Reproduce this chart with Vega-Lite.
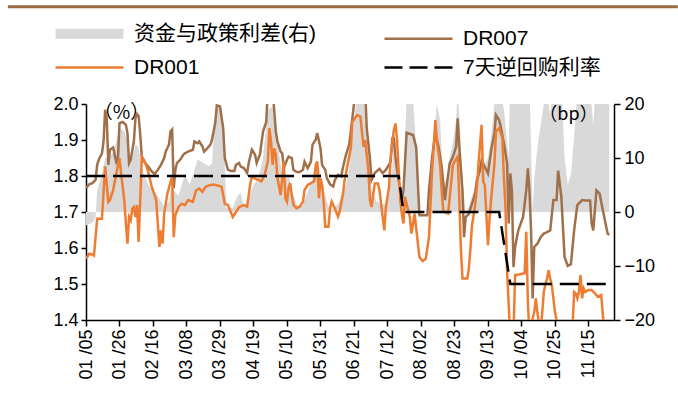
{
  "$schema": "https://vega.github.io/schema/vega-lite/v6.json",
  "width": 528,
  "height": 216,
  "autosize": {"type": "none"},
  "padding": {"left": 86, "top": 104, "right": 64, "bottom": 100},
  "background": "white",
  "config": {
    "view": {"stroke": null},
    "axis": {
      "grid": false,
      "domainColor": "#000000",
      "domainWidth": 1.5,
      "tickColor": "#000000",
      "tickWidth": 1.5,
      "labelColor": "#000000",
      "labelFont": "Liberation Sans Narrow, Liberation Sans, Noto Sans CJK SC",
      "labelFontSize": 18,
      "labelOverlap": false
    }
  },
  "datasets": {
    "spread": [
      {"date": "2024-01-05", "value": -2.5}, {"date": "2024-01-09", "value": -2}, {"date": "2024-01-11", "value": -1},
      {"date": "2024-01-12", "value": 4}, {"date": "2024-01-15", "value": 7}, {"date": "2024-01-17", "value": 10},
      {"date": "2024-01-19", "value": 10}, {"date": "2024-01-22", "value": 11}, {"date": "2024-01-24", "value": 13},
      {"date": "2024-01-26", "value": 15.5}, {"date": "2024-01-29", "value": 15}, {"date": "2024-01-31", "value": 13},
      {"date": "2024-02-02", "value": 9}, {"date": "2024-02-05", "value": 12.5}, {"date": "2024-02-07", "value": 12},
      {"date": "2024-02-09", "value": 8}, {"date": "2024-02-13", "value": 5}, {"date": "2024-02-19", "value": 3},
      {"date": "2024-02-23", "value": 1}, {"date": "2024-02-26", "value": 2}, {"date": "2024-02-27", "value": 4},
      {"date": "2024-02-29", "value": 4}, {"date": "2024-03-03", "value": 3}, {"date": "2024-03-07", "value": 7},
      {"date": "2024-03-10", "value": 5}, {"date": "2024-03-15", "value": 9.7}, {"date": "2024-03-19", "value": 9},
      {"date": "2024-03-22", "value": 8.5}, {"date": "2024-03-24", "value": 9}, {"date": "2024-03-26", "value": 18.7},
      {"date": "2024-03-28", "value": 20}, {"date": "2024-03-30", "value": 19}, {"date": "2024-04-01", "value": 8.7},
      {"date": "2024-04-02", "value": 0.7}, {"date": "2024-04-06", "value": 0.8}, {"date": "2024-04-09", "value": 3},
      {"date": "2024-04-11", "value": 3.5}, {"date": "2024-04-13", "value": 1}, {"date": "2024-04-16", "value": 2.5},
      {"date": "2024-04-19", "value": 5}, {"date": "2024-04-22", "value": 6.3}, {"date": "2024-04-25", "value": 10},
      {"date": "2024-04-28", "value": 19}, {"date": "2024-05-01", "value": 19.5}, {"date": "2024-05-04", "value": 13},
      {"date": "2024-05-07", "value": 7}, {"date": "2024-05-09", "value": 6}, {"date": "2024-05-11", "value": 7},
      {"date": "2024-05-13", "value": 4}, {"date": "2024-05-16", "value": 1.5}, {"date": "2024-05-18", "value": 1},
      {"date": "2024-05-20", "value": 1.5}, {"date": "2024-05-22", "value": 3}, {"date": "2024-05-24", "value": 4.5},
      {"date": "2024-05-26", "value": 6}, {"date": "2024-05-28", "value": 7}, {"date": "2024-05-30", "value": 8.5},
      {"date": "2024-06-01", "value": 6}, {"date": "2024-06-03", "value": 3}, {"date": "2024-06-05", "value": 1},
      {"date": "2024-06-07", "value": 0.5}, {"date": "2024-06-09", "value": 1}, {"date": "2024-06-11", "value": 1.5},
      {"date": "2024-06-13", "value": 3}, {"date": "2024-06-16", "value": 5}, {"date": "2024-06-18", "value": 8},
      {"date": "2024-06-19", "value": 12}, {"date": "2024-06-21", "value": 17}, {"date": "2024-06-23", "value": 22},
      {"date": "2024-06-27", "value": 22}, {"date": "2024-06-29", "value": 14}, {"date": "2024-07-01", "value": 8},
      {"date": "2024-07-02", "value": 4}, {"date": "2024-07-05", "value": 2}, {"date": "2024-07-08", "value": 1.5},
      {"date": "2024-07-11", "value": 1.5}, {"date": "2024-07-13", "value": 3}, {"date": "2024-07-15", "value": 8},
      {"date": "2024-07-16", "value": 13}, {"date": "2024-07-18", "value": 8}, {"date": "2024-07-19", "value": 3},
      {"date": "2024-07-21", "value": 2}, {"date": "2024-07-22", "value": 4}, {"date": "2024-07-24", "value": 22},
      {"date": "2024-07-28", "value": 21}, {"date": "2024-07-30", "value": 12}, {"date": "2024-08-01", "value": 0},
      {"date": "2024-08-06", "value": 0}, {"date": "2024-08-08", "value": 6}, {"date": "2024-08-10", "value": 14},
      {"date": "2024-08-12", "value": 20}, {"date": "2024-08-14", "value": 17}, {"date": "2024-08-16", "value": 5},
      {"date": "2024-08-18", "value": 6}, {"date": "2024-08-20", "value": 10}, {"date": "2024-08-22", "value": 13},
      {"date": "2024-08-24", "value": 17}, {"date": "2024-08-25", "value": 22}, {"date": "2024-08-26", "value": 18},
      {"date": "2024-08-28", "value": 6}, {"date": "2024-08-30", "value": 0}, {"date": "2024-09-01", "value": 1},
      {"date": "2024-09-03", "value": 3}, {"date": "2024-09-05", "value": 5}, {"date": "2024-09-07", "value": 8},
      {"date": "2024-09-09", "value": 10}, {"date": "2024-09-11", "value": 9}, {"date": "2024-09-13", "value": 10},
      {"date": "2024-09-15", "value": 14}, {"date": "2024-09-17", "value": 20}, {"date": "2024-09-19", "value": 22},
      {"date": "2024-09-21", "value": 22}, {"date": "2024-09-23", "value": 19}, {"date": "2024-09-25", "value": 13},
      {"date": "2024-09-26", "value": 10}, {"date": "2024-09-27", "value": 28}, {"date": "2024-09-28", "value": 24},
      {"date": "2024-09-30", "value": 20}, {"date": "2024-10-02", "value": 20}, {"date": "2024-10-05", "value": 22},
      {"date": "2024-10-08", "value": 28}, {"date": "2024-10-09", "value": 24}, {"date": "2024-10-10", "value": 12},
      {"date": "2024-10-11", "value": 0}, {"date": "2024-10-12", "value": 6}, {"date": "2024-10-14", "value": 12},
      {"date": "2024-10-16", "value": 16}, {"date": "2024-10-18", "value": 20}, {"date": "2024-10-20", "value": 22},
      {"date": "2024-10-22", "value": 18}, {"date": "2024-10-24", "value": 23}, {"date": "2024-10-27", "value": 30},
      {"date": "2024-10-29", "value": 24}, {"date": "2024-10-31", "value": 10}, {"date": "2024-11-02", "value": 5},
      {"date": "2024-11-04", "value": 7}, {"date": "2024-11-06", "value": 14}, {"date": "2024-11-08", "value": 22},
      {"date": "2024-11-11", "value": 23}, {"date": "2024-11-13", "value": 23}, {"date": "2024-11-16", "value": 23},
      {"date": "2024-11-18", "value": 16}, {"date": "2024-11-20", "value": 26}, {"date": "2024-11-22", "value": 25},
      {"date": "2024-11-24", "value": 22}, {"date": "2024-11-27", "value": 21}, {"date": "2024-11-28", "value": 20}
    ],
    "dr007": [
      {"date": "2024-01-05", "value": 1.766}, {"date": "2024-01-07", "value": 1.777}, {"date": "2024-01-09", "value": 1.78},
      {"date": "2024-01-11", "value": 1.789}, {"date": "2024-01-12", "value": 1.831}, {"date": "2024-01-13", "value": 1.845},
      {"date": "2024-01-15", "value": 1.863}, {"date": "2024-01-16", "value": 1.896}, {"date": "2024-01-17", "value": 1.984},
      {"date": "2024-01-18", "value": 1.961}, {"date": "2024-01-19", "value": 1.831}, {"date": "2024-01-20", "value": 1.873},
      {"date": "2024-01-22", "value": 1.879}, {"date": "2024-01-24", "value": 1.838}, {"date": "2024-01-25", "value": 1.845},
      {"date": "2024-01-26", "value": 1.947}, {"date": "2024-01-28", "value": 1.95}, {"date": "2024-01-30", "value": 1.942},
      {"date": "2024-01-31", "value": 1.919}, {"date": "2024-02-01", "value": 1.836}, {"date": "2024-02-02", "value": 1.845},
      {"date": "2024-02-04", "value": 1.896}, {"date": "2024-02-05", "value": 1.961}, {"date": "2024-02-06", "value": 1.972},
      {"date": "2024-02-07", "value": 1.966}, {"date": "2024-02-08", "value": 1.915}, {"date": "2024-02-09", "value": 1.854},
      {"date": "2024-02-11", "value": 1.836}, {"date": "2024-02-13", "value": 1.826}, {"date": "2024-02-15", "value": 1.814},
      {"date": "2024-02-17", "value": 1.805}, {"date": "2024-02-19", "value": 1.817}, {"date": "2024-02-21", "value": 1.831},
      {"date": "2024-02-23", "value": 1.85}, {"date": "2024-02-24", "value": 1.868}, {"date": "2024-02-26", "value": 1.887},
      {"date": "2024-02-27", "value": 1.924}, {"date": "2024-02-28", "value": 1.929}, {"date": "2024-02-29", "value": 1.766},
      {"date": "2024-03-01", "value": 1.817}, {"date": "2024-03-02", "value": 1.836}, {"date": "2024-03-04", "value": 1.845},
      {"date": "2024-03-06", "value": 1.859}, {"date": "2024-03-07", "value": 1.863}, {"date": "2024-03-09", "value": 1.868},
      {"date": "2024-03-12", "value": 1.873}, {"date": "2024-03-13", "value": 1.896}, {"date": "2024-03-15", "value": 1.891},
      {"date": "2024-03-16", "value": 1.896}, {"date": "2024-03-18", "value": 1.882}, {"date": "2024-03-19", "value": 1.868},
      {"date": "2024-03-21", "value": 1.877}, {"date": "2024-03-23", "value": 1.887}, {"date": "2024-03-24", "value": 1.901},
      {"date": "2024-03-26", "value": 1.947}, {"date": "2024-03-27", "value": 1.996}, {"date": "2024-03-29", "value": 1.993},
      {"date": "2024-03-31", "value": 1.933}, {"date": "2024-04-01", "value": 1.85}, {"date": "2024-04-03", "value": 1.817},
      {"date": "2024-04-05", "value": 1.814}, {"date": "2024-04-07", "value": 1.814}, {"date": "2024-04-08", "value": 1.831},
      {"date": "2024-04-10", "value": 1.836}, {"date": "2024-04-11", "value": 1.826}, {"date": "2024-04-13", "value": 1.822},
      {"date": "2024-04-15", "value": 1.808}, {"date": "2024-04-16", "value": 1.836}, {"date": "2024-04-18", "value": 1.873},
      {"date": "2024-04-20", "value": 1.859}, {"date": "2024-04-21", "value": 1.836}, {"date": "2024-04-23", "value": 1.859},
      {"date": "2024-04-25", "value": 1.924}, {"date": "2024-04-27", "value": 1.95}, {"date": "2024-04-28", "value": 2.04},
      {"date": "2024-05-01", "value": 2.04}, {"date": "2024-05-03", "value": 1.924}, {"date": "2024-05-04", "value": 1.896},
      {"date": "2024-05-06", "value": 1.868}, {"date": "2024-05-07", "value": 1.863}, {"date": "2024-05-08", "value": 1.822},
      {"date": "2024-05-10", "value": 1.845}, {"date": "2024-05-11", "value": 1.854}, {"date": "2024-05-13", "value": 1.85},
      {"date": "2024-05-14", "value": 1.817}, {"date": "2024-05-16", "value": 1.811}, {"date": "2024-05-18", "value": 1.811},
      {"date": "2024-05-20", "value": 1.817}, {"date": "2024-05-21", "value": 1.84}, {"date": "2024-05-23", "value": 1.822},
      {"date": "2024-05-25", "value": 1.84}, {"date": "2024-05-26", "value": 1.887}, {"date": "2024-05-28", "value": 1.901},
      {"date": "2024-05-29", "value": 1.919}, {"date": "2024-05-31", "value": 1.877}, {"date": "2024-06-01", "value": 1.831},
      {"date": "2024-06-03", "value": 1.817}, {"date": "2024-06-04", "value": 1.794}, {"date": "2024-06-06", "value": 1.777},
      {"date": "2024-06-08", "value": 1.771}, {"date": "2024-06-09", "value": 1.789}, {"date": "2024-06-11", "value": 1.803},
      {"date": "2024-06-13", "value": 1.799}, {"date": "2024-06-14", "value": 1.822}, {"date": "2024-06-16", "value": 1.859},
      {"date": "2024-06-18", "value": 1.887}, {"date": "2024-06-20", "value": 1.961}, {"date": "2024-06-22", "value": 2.04},
      {"date": "2024-06-28", "value": 2.04}, {"date": "2024-06-29", "value": 1.933}, {"date": "2024-07-01", "value": 1.85},
      {"date": "2024-07-02", "value": 1.789}, {"date": "2024-07-04", "value": 1.808}, {"date": "2024-07-07", "value": 1.82},
      {"date": "2024-07-09", "value": 1.808}, {"date": "2024-07-11", "value": 1.817}, {"date": "2024-07-14", "value": 1.84},
      {"date": "2024-07-15", "value": 1.904}, {"date": "2024-07-16", "value": 1.905}, {"date": "2024-07-17", "value": 1.853},
      {"date": "2024-07-18", "value": 1.816}, {"date": "2024-07-20", "value": 1.76}, {"date": "2024-07-21", "value": 1.733},
      {"date": "2024-07-22", "value": 1.76}, {"date": "2024-07-24", "value": 1.92}, {"date": "2024-07-28", "value": 1.914},
      {"date": "2024-07-30", "value": 1.88}, {"date": "2024-08-01", "value": 1.691}, {"date": "2024-08-06", "value": 1.691},
      {"date": "2024-08-07", "value": 1.76}, {"date": "2024-08-09", "value": 1.853}, {"date": "2024-08-11", "value": 1.918},
      {"date": "2024-08-13", "value": 1.881}, {"date": "2024-08-15", "value": 1.825}, {"date": "2024-08-17", "value": 1.733},
      {"date": "2024-08-18", "value": 1.77}, {"date": "2024-08-20", "value": 1.835}, {"date": "2024-08-22", "value": 1.853},
      {"date": "2024-08-24", "value": 1.881}, {"date": "2024-08-25", "value": 1.96}, {"date": "2024-08-26", "value": 1.881},
      {"date": "2024-08-28", "value": 1.76}, {"date": "2024-08-29", "value": 1.63}, {"date": "2024-08-30", "value": 1.686},
      {"date": "2024-09-01", "value": 1.695}, {"date": "2024-09-03", "value": 1.723}, {"date": "2024-09-05", "value": 1.751},
      {"date": "2024-09-06", "value": 1.788}, {"date": "2024-09-08", "value": 1.816}, {"date": "2024-09-09", "value": 1.844},
      {"date": "2024-09-11", "value": 1.825}, {"date": "2024-09-13", "value": 1.807}, {"date": "2024-09-15", "value": 1.872},
      {"date": "2024-09-17", "value": 1.918}, {"date": "2024-09-18", "value": 1.969}, {"date": "2024-09-20", "value": 1.955},
      {"date": "2024-09-21", "value": 1.937}, {"date": "2024-09-23", "value": 1.89}, {"date": "2024-09-25", "value": 1.835},
      {"date": "2024-09-26", "value": 1.668}, {"date": "2024-09-27", "value": 1.807}, {"date": "2024-09-28", "value": 1.76},
      {"date": "2024-09-29", "value": 1.547}, {"date": "2024-09-30", "value": 1.603}, {"date": "2024-10-02", "value": 1.649},
      {"date": "2024-10-05", "value": 1.686}, {"date": "2024-10-07", "value": 1.76}, {"date": "2024-10-08", "value": 1.821},
      {"date": "2024-10-09", "value": 1.76}, {"date": "2024-10-10", "value": 1.649}, {"date": "2024-10-11", "value": 1.46},
      {"date": "2024-10-12", "value": 1.603}, {"date": "2024-10-14", "value": 1.612}, {"date": "2024-10-16", "value": 1.63},
      {"date": "2024-10-18", "value": 1.64}, {"date": "2024-10-20", "value": 1.644}, {"date": "2024-10-22", "value": 1.649},
      {"date": "2024-10-24", "value": 1.733}, {"date": "2024-10-26", "value": 1.733}, {"date": "2024-10-27", "value": 1.815},
      {"date": "2024-10-29", "value": 1.742}, {"date": "2024-10-31", "value": 1.575}, {"date": "2024-11-02", "value": 1.55},
      {"date": "2024-11-04", "value": 1.555}, {"date": "2024-11-06", "value": 1.649}, {"date": "2024-11-08", "value": 1.719},
      {"date": "2024-11-11", "value": 1.733}, {"date": "2024-11-13", "value": 1.732}, {"date": "2024-11-16", "value": 1.732},
      {"date": "2024-11-17", "value": 1.668}, {"date": "2024-11-18", "value": 1.649}, {"date": "2024-11-20", "value": 1.76},
      {"date": "2024-11-22", "value": 1.751}, {"date": "2024-11-24", "value": 1.705}, {"date": "2024-11-27", "value": 1.64},
      {"date": "2024-11-28", "value": 1.636}
    ],
    "dr001": [
      {"date": "2024-01-05", "value": 1.57}, {"date": "2024-01-07", "value": 1.584}, {"date": "2024-01-09", "value": 1.582},
      {"date": "2024-01-10", "value": 1.579}, {"date": "2024-01-12", "value": 1.681}, {"date": "2024-01-15", "value": 1.681},
      {"date": "2024-01-17", "value": 1.827}, {"date": "2024-01-19", "value": 1.728}, {"date": "2024-01-20", "value": 1.733},
      {"date": "2024-01-22", "value": 1.76}, {"date": "2024-01-24", "value": 1.807}, {"date": "2024-01-26", "value": 1.849},
      {"date": "2024-01-27", "value": 1.807}, {"date": "2024-01-29", "value": 1.733}, {"date": "2024-01-30", "value": 1.668},
      {"date": "2024-01-31", "value": 1.612}, {"date": "2024-02-01", "value": 1.686}, {"date": "2024-02-02", "value": 1.677},
      {"date": "2024-02-03", "value": 1.709}, {"date": "2024-02-04", "value": 1.714}, {"date": "2024-02-05", "value": 1.686},
      {"date": "2024-02-06", "value": 1.719}, {"date": "2024-02-07", "value": 1.617}, {"date": "2024-02-09", "value": 1.853},
      {"date": "2024-02-11", "value": 1.839}, {"date": "2024-02-13", "value": 1.812}, {"date": "2024-02-15", "value": 1.774},
      {"date": "2024-02-18", "value": 1.733}, {"date": "2024-02-19", "value": 1.668}, {"date": "2024-02-20", "value": 1.603},
      {"date": "2024-02-21", "value": 1.649}, {"date": "2024-02-22", "value": 1.612}, {"date": "2024-02-23", "value": 1.695},
      {"date": "2024-02-25", "value": 1.751}, {"date": "2024-02-27", "value": 1.784}, {"date": "2024-02-28", "value": 1.798},
      {"date": "2024-02-29", "value": 1.63}, {"date": "2024-03-01", "value": 1.691}, {"date": "2024-03-03", "value": 1.714},
      {"date": "2024-03-05", "value": 1.723}, {"date": "2024-03-07", "value": 1.719}, {"date": "2024-03-09", "value": 1.733},
      {"date": "2024-03-12", "value": 1.728}, {"date": "2024-03-14", "value": 1.76}, {"date": "2024-03-16", "value": 1.765},
      {"date": "2024-03-18", "value": 1.756}, {"date": "2024-03-20", "value": 1.77}, {"date": "2024-03-22", "value": 1.774},
      {"date": "2024-03-25", "value": 1.776}, {"date": "2024-03-27", "value": 1.774}, {"date": "2024-03-30", "value": 1.77},
      {"date": "2024-04-01", "value": 1.723}, {"date": "2024-04-03", "value": 1.719}, {"date": "2024-04-06", "value": 1.686},
      {"date": "2024-04-08", "value": 1.7}, {"date": "2024-04-10", "value": 1.714}, {"date": "2024-04-13", "value": 1.719},
      {"date": "2024-04-15", "value": 1.715}, {"date": "2024-04-17", "value": 1.779}, {"date": "2024-04-18", "value": 1.798},
      {"date": "2024-04-20", "value": 1.793}, {"date": "2024-04-22", "value": 1.789}, {"date": "2024-04-24", "value": 1.785},
      {"date": "2024-04-26", "value": 1.803}, {"date": "2024-04-28", "value": 1.84}, {"date": "2024-04-29", "value": 1.933},
      {"date": "2024-04-30", "value": 1.896}, {"date": "2024-05-01", "value": 1.831}, {"date": "2024-05-02", "value": 1.877},
      {"date": "2024-05-03", "value": 1.859}, {"date": "2024-05-04", "value": 1.794}, {"date": "2024-05-06", "value": 1.747},
      {"date": "2024-05-08", "value": 1.84}, {"date": "2024-05-09", "value": 1.738}, {"date": "2024-05-10", "value": 1.729},
      {"date": "2024-05-11", "value": 1.766}, {"date": "2024-05-12", "value": 1.78}, {"date": "2024-05-13", "value": 1.747},
      {"date": "2024-05-14", "value": 1.72}, {"date": "2024-05-16", "value": 1.71}, {"date": "2024-05-18", "value": 1.715},
      {"date": "2024-05-20", "value": 1.729}, {"date": "2024-05-21", "value": 1.761}, {"date": "2024-05-23", "value": 1.775},
      {"date": "2024-05-25", "value": 1.78}, {"date": "2024-05-27", "value": 1.785}, {"date": "2024-05-28", "value": 1.831},
      {"date": "2024-05-29", "value": 1.84}, {"date": "2024-05-30", "value": 1.738}, {"date": "2024-05-31", "value": 1.794},
      {"date": "2024-06-01", "value": 1.775}, {"date": "2024-06-02", "value": 1.729}, {"date": "2024-06-03", "value": 1.659},
      {"date": "2024-06-05", "value": 1.659}, {"date": "2024-06-06", "value": 1.71}, {"date": "2024-06-07", "value": 1.729},
      {"date": "2024-06-09", "value": 1.71}, {"date": "2024-06-11", "value": 1.687}, {"date": "2024-06-12", "value": 1.701},
      {"date": "2024-06-14", "value": 1.747}, {"date": "2024-06-15", "value": 1.785}, {"date": "2024-06-17", "value": 1.831},
      {"date": "2024-06-19", "value": 1.877}, {"date": "2024-06-20", "value": 1.951}, {"date": "2024-06-23", "value": 1.969},
      {"date": "2024-06-25", "value": 1.965}, {"date": "2024-06-27", "value": 1.881}, {"date": "2024-06-28", "value": 1.9},
      {"date": "2024-06-30", "value": 1.816}, {"date": "2024-07-01", "value": 1.733}, {"date": "2024-07-02", "value": 1.714},
      {"date": "2024-07-04", "value": 1.779}, {"date": "2024-07-06", "value": 1.779}, {"date": "2024-07-07", "value": 1.76},
      {"date": "2024-07-09", "value": 1.686}, {"date": "2024-07-10", "value": 1.649}, {"date": "2024-07-11", "value": 1.714},
      {"date": "2024-07-13", "value": 1.77}, {"date": "2024-07-14", "value": 1.853}, {"date": "2024-07-16", "value": 1.928},
      {"date": "2024-07-17", "value": 1.946}, {"date": "2024-07-18", "value": 1.9}, {"date": "2024-07-20", "value": 1.733},
      {"date": "2024-07-21", "value": 1.695}, {"date": "2024-07-22", "value": 1.668}, {"date": "2024-07-23", "value": 1.742},
      {"date": "2024-07-24", "value": 1.723}, {"date": "2024-07-26", "value": 1.686}, {"date": "2024-07-27", "value": 1.64},
      {"date": "2024-07-29", "value": 1.695}, {"date": "2024-08-01", "value": 1.575}, {"date": "2024-08-03", "value": 1.564},
      {"date": "2024-08-05", "value": 1.57}, {"date": "2024-08-07", "value": 1.63}, {"date": "2024-08-09", "value": 1.816},
      {"date": "2024-08-11", "value": 1.955}, {"date": "2024-08-12", "value": 1.896}, {"date": "2024-08-14", "value": 1.831},
      {"date": "2024-08-15", "value": 1.757}, {"date": "2024-08-16", "value": 1.701}, {"date": "2024-08-19", "value": 1.696},
      {"date": "2024-08-21", "value": 1.785}, {"date": "2024-08-22", "value": 1.831}, {"date": "2024-08-23", "value": 1.84},
      {"date": "2024-08-25", "value": 1.854}, {"date": "2024-08-26", "value": 1.738}, {"date": "2024-08-27", "value": 1.599},
      {"date": "2024-08-28", "value": 1.515}, {"date": "2024-08-30", "value": 1.515}, {"date": "2024-08-31", "value": 1.515},
      {"date": "2024-09-01", "value": 1.543}, {"date": "2024-09-02", "value": 1.599}, {"date": "2024-09-03", "value": 1.664},
      {"date": "2024-09-05", "value": 1.72}, {"date": "2024-09-06", "value": 1.766}, {"date": "2024-09-07", "value": 1.831},
      {"date": "2024-09-09", "value": 1.942}, {"date": "2024-09-10", "value": 1.785}, {"date": "2024-09-11", "value": 1.775},
      {"date": "2024-09-12", "value": 1.692}, {"date": "2024-09-13", "value": 1.608}, {"date": "2024-09-14", "value": 1.682},
      {"date": "2024-09-15", "value": 1.738}, {"date": "2024-09-17", "value": 1.831}, {"date": "2024-09-18", "value": 1.924},
      {"date": "2024-09-20", "value": 1.933}, {"date": "2024-09-22", "value": 1.905}, {"date": "2024-09-23", "value": 1.794},
      {"date": "2024-09-24", "value": 1.71}, {"date": "2024-09-25", "value": 1.534}, {"date": "2024-09-27", "value": 1.35},
      {"date": "2024-09-29", "value": 1.36}, {"date": "2024-09-30", "value": 1.525}, {"date": "2024-10-01", "value": 1.525},
      {"date": "2024-10-04", "value": 1.528}, {"date": "2024-10-06", "value": 1.53}, {"date": "2024-10-07", "value": 1.645},
      {"date": "2024-10-08", "value": 1.45}, {"date": "2024-10-09", "value": 1.36}, {"date": "2024-10-10", "value": 1.36},
      {"date": "2024-10-11", "value": 1.404}, {"date": "2024-10-12", "value": 1.422}, {"date": "2024-10-13", "value": 1.46},
      {"date": "2024-10-14", "value": 1.42}, {"date": "2024-10-15", "value": 1.39}, {"date": "2024-10-16", "value": 1.37},
      {"date": "2024-10-17", "value": 1.42}, {"date": "2024-10-18", "value": 1.478}, {"date": "2024-10-19", "value": 1.5},
      {"date": "2024-10-20", "value": 1.515}, {"date": "2024-10-21", "value": 1.538}, {"date": "2024-10-22", "value": 1.515},
      {"date": "2024-10-23", "value": 1.497}, {"date": "2024-10-24", "value": 1.46}, {"date": "2024-10-25", "value": 1.422},
      {"date": "2024-10-26", "value": 1.4}, {"date": "2024-10-28", "value": 1.36}, {"date": "2024-11-04", "value": 1.36},
      {"date": "2024-11-05", "value": 1.38}, {"date": "2024-11-06", "value": 1.478}, {"date": "2024-11-07", "value": 1.474},
      {"date": "2024-11-08", "value": 1.46}, {"date": "2024-11-09", "value": 1.478}, {"date": "2024-11-10", "value": 1.525},
      {"date": "2024-11-11", "value": 1.46}, {"date": "2024-11-12", "value": 1.488}, {"date": "2024-11-13", "value": 1.478},
      {"date": "2024-11-15", "value": 1.483}, {"date": "2024-11-17", "value": 1.483}, {"date": "2024-11-19", "value": 1.474},
      {"date": "2024-11-21", "value": 1.464}, {"date": "2024-11-23", "value": 1.469}, {"date": "2024-11-25", "value": 1.36}
    ],
    "policy": [
      {"date": "2024-01-05", "value": 1.8}, {"date": "2024-07-19", "value": 1.8},
      {"date": "2024-07-22", "value": 1.7}, {"date": "2024-09-20", "value": 1.7},
      {"date": "2024-09-27", "value": 1.5}, {"date": "2024-11-28", "value": 1.5}
    ]
  },
  "layer": [
    {
      "data": {"name": "spread"},
      "mark": {"type": "area", "clip": true, "opacity": 1},
      "encoding": {
        "x": {
          "field": "date", "type": "temporal",
          "scale": {"type": "utc", "domain": [{"year": 2024, "month": 1, "date": 5, "utc": true}, {"year": 2024, "month": 12, "date": 1, "utc": true}]},
          "axis": {
            "title": null, "format": "%m /%d", "labelAngle": 270, "labelFontSize": 18, "tickSize": 6, "labelPadding": 3,
            "labelOverlap": false, "labelBound": false, "labelFlush": false, "tickCount": 60,
            "values": [
              {"year": 2024, "month": 1, "date": 5, "utc": true}, {"year": 2024, "month": 1, "date": 26, "utc": true},
              {"year": 2024, "month": 2, "date": 16, "utc": true}, {"year": 2024, "month": 3, "date": 8, "utc": true},
              {"year": 2024, "month": 3, "date": 29, "utc": true}, {"year": 2024, "month": 4, "date": 19, "utc": true},
              {"year": 2024, "month": 5, "date": 10, "utc": true}, {"year": 2024, "month": 5, "date": 31, "utc": true},
              {"year": 2024, "month": 6, "date": 21, "utc": true}, {"year": 2024, "month": 7, "date": 12, "utc": true},
              {"year": 2024, "month": 8, "date": 2, "utc": true}, {"year": 2024, "month": 8, "date": 23, "utc": true},
              {"year": 2024, "month": 9, "date": 13, "utc": true}, {"year": 2024, "month": 10, "date": 4, "utc": true},
              {"year": 2024, "month": 10, "date": 25, "utc": true}, {"year": 2024, "month": 11, "date": 15, "utc": true}
            ]
          }
        },
        "y": {
          "field": "value", "type": "quantitative",
          "scale": {"domain": [-20, 20], "nice": false, "zero": false},
          "axis": {
            "orient": "right", "values": [-20, -10, 0, 10, 20], "format": "d", "tickSize": 6, "labelPadding": 4,
            "labelOverlap": false, "zindex": 1, "tickCount": 60,
            "title": "（bp）", "titleAngle": 0, "titleX": -46, "titleY": 10, "titleAlign": "center", "titleBaseline": "middle",
            "titleFont": "Noto Sans CJK SC", "titleFontSize": 18, "titleFontWeight": "normal", "titleColor": "#000000"
          }
        },
        "color": {
          "datum": "资金与政策利差(右)",
          "scale": {
            "domain": ["资金与政策利差(右)", "DR001", "DR007", "7天逆回购利率"],
            "range": ["#d9d9d9", "#ee7d31", "#a0704a", "#000000"]
          },
          "legend": {
            "title": null, "orient": "none", "legendX": -7, "legendY": -81, "columns": 2, "columnPadding": 63, "rowPadding": 2,
            "padding": 0, "symbolType": "stroke", "symbolSize": 4624,
            "symbolStrokeWidth": {"expr": "datum.value === '资金与政策利差(右)' ? 10 : 2.5"},
            "symbolDash": {"expr": "datum.value === '7天逆回购利率' ? [18, 7] : [1, 0]"},
            "labelFont": "Liberation Sans Narrow, Liberation Sans, Noto Sans CJK SC", "labelFontSize": 21, "labelColor": "#000000",
            "labelOffset": 34, "labelLimit": 400
          }
        }
      }
    },
    {
      "layer": [
        {
          "data": {"name": "dr007"},
          "mark": {"type": "line", "strokeWidth": 2.5, "clip": true},
          "encoding": {
            "x": {"field": "date", "type": "temporal"},
            "y": {
              "field": "value", "type": "quantitative",
              "scale": {"domain": [1.4, 2.0], "nice": false, "zero": false},
              "axis": {
                "orient": "left", "values": [1.4, 1.5, 1.6, 1.7, 1.8, 1.9, 2.0], "format": ".1f", "tickSize": 5, "labelPadding": 3,
                "labelOverlap": false, "tickCount": 60,
                "title": "（%）", "titleAngle": 0, "titleX": 35, "titleY": 8, "titleAlign": "center", "titleBaseline": "middle",
                "titleFont": "Noto Sans CJK SC", "titleFontSize": 19, "titleFontWeight": "normal", "titleColor": "#000000"
              }
            },
            "color": {"datum": "DR007"}
          }
        },
        {
          "data": {"name": "dr001"},
          "mark": {"type": "line", "strokeWidth": 2.5, "clip": true},
          "encoding": {
            "x": {"field": "date", "type": "temporal"},
            "y": {"field": "value", "type": "quantitative"},
            "color": {"datum": "DR001"}
          }
        },
        {
          "data": {"name": "policy"},
          "mark": {"type": "line", "strokeWidth": 2.5, "strokeDash": [19, 8], "clip": true},
          "encoding": {
            "x": {"field": "date", "type": "temporal"},
            "y": {"field": "value", "type": "quantitative"},
            "color": {"datum": "7天逆回购利率"}
          }
        },
        {
          "data": {"values": [{}]},
          "mark": {"type": "rule", "color": "#9a6a40", "strokeWidth": 3, "clip": false},
          "encoding": {
            "x": {"datum": {"year": 2023, "month": 11, "date": 17, "utc": true}, "type": "temporal"},
            "x2": {"datum": {"year": 2025, "month": 1, "date": 10, "utc": true}},
            "y": {"datum": 2.27, "type": "quantitative"}
          }
        }
      ]
    }
  ],
  "resolve": {"scale": {"y": "independent"}}
}
